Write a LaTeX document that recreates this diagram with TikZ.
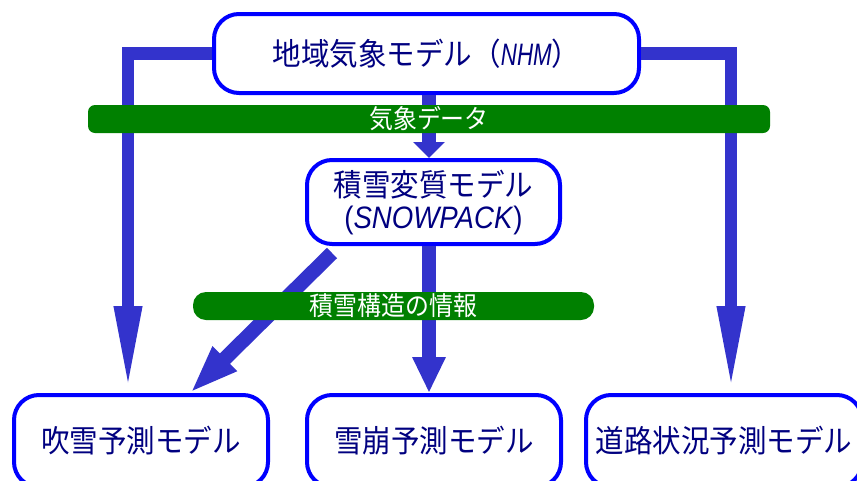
\documentclass[tikz,border=0pt]{standalone}
\usepackage{fontspec}
\setmainfont{Liberation Sans}
\newfontfamily\jp[FakeStretch=0.92]{Noto Sans CJK JP}
\newfontfamily\lat[FakeStretch=0.89]{Liberation Sans}
\newfontfamily\nhm[FakeStretch=0.72]{Liberation Sans}
\usetikzlibrary{arrows.meta}
\definecolor{boxblue}{HTML}{0000FF}
\definecolor{txtnavy}{HTML}{000080}
\definecolor{conn}{HTML}{3333CC}
\definecolor{bargreen}{HTML}{008000}
\begin{document}
\begin{tikzpicture}[x=1pt,y=-1pt,
  model/.style={draw=boxblue, line width=4pt, rounded corners=25pt, fill=white,
    text=txtnavy, inner sep=0pt, align=center, font=\jp\fontsize{31}{34}\selectfont},
  flow/.style={draw=conn, line width=12.5pt},
  mainflow/.style={draw=conn, line width=14.5pt},
  bar/.style={fill=bargreen, text=white, inner sep=0pt,
    font=\jp\fontsize{26}{28}\selectfont},
]
\useasboundingbox (0,0) rectangle (857,480);
\clip (0,0) rectangle (857,480);
% model boxes
\node[model, minimum width=425pt, minimum height=79pt] (top) at (426.5,53.5)
  {地域気象モデル（{\nhm\itshape NHM}）};
\node[model, minimum width=253pt, minimum height=84pt] (snow) at (433.5,202)
  {積雪変質モデル\\[-2pt]{\lat(\textit{SNOWPACK})}};
\node[model, minimum width=254pt, minimum height=92pt] (blow) at (141,441)
  {吹雪予測モデル};
\node[model, minimum width=254pt, minimum height=92pt] (aval) at (434,441)
  {雪崩予測モデル};
\node[model, minimum width=276pt, minimum height=92pt] (road) at (724,441)
  {道路状況予測モデル};
% connectors
\draw[flow, -{Triangle[length=87pt,width=25pt]}] (top.west) -| ([xshift=-13pt]blow.north);
\draw[flow, -{Triangle[length=87pt,width=25pt]}] (top.east) -| ([xshift=7pt]road.north);
\draw[mainflow, -{Triangle[length=16pt,width=31pt]}] ([xshift=-4.5pt]top.south -| snow.north) -- ([xshift=-4.5pt]snow.north);
\draw[mainflow, -{Triangle[length=36pt,width=31pt]}] ([xshift=-4.5pt]snow.south) -- ([xshift=-5pt]aval.north);
\draw[mainflow, -{Triangle[length=49pt,width=31pt]}]
  ([shift={(27,7)}]snow.south west) -- ([xshift=49pt]blow.north);
% green bars
\node[bar, rounded corners=7pt, minimum width=682pt, minimum height=28pt] (data) at (429,119)
  {気象データ};
\node[bar, rounded corners=13pt, minimum width=401pt, minimum height=28pt] (struct) at (393.5,306)
  {積雪構造の情報};
\end{tikzpicture}
\end{document}
